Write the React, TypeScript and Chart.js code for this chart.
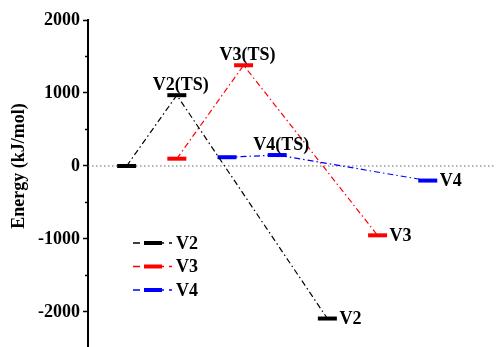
import React, { useEffect, useRef } from "react";
import { Chart, registerables } from "chart.js";

Chart.register(...registerables);

// ---- data ----
const seriesNames = ["V2", "V3", "V4"];
const v2X = [0, 1, 4];
const v2Y = [0, 970, -2090];
const v2Labels = ["", "V2(TS)", "V2"];
const v3X = [1, 2.33, 5];
const v3Y = [100, 1380, -950];
const v3Labels = ["", "V3(TS)", "V3"];
const v4X = [2, 3, 6];
const v4Y = [120, 150, -200];
const v4Labels = ["", "V4(TS)", "V4"];
const yTicks = [-2000, -1000, 0, 1000, 2000];
const yMin = -2480;
const yMax = 2000;
const xMin = -0.77;
const xMax = 7.36;
const axisTitle = "Energy (kJ/mol)";

const colors = ["#000000", "#ff0000", "#0000ff"];
const FONT = '"Liberation Serif", "Times New Roman", serif';
const DASH = [6, 3, 1.5, 3];

const toPts = (xs: number[], ys: number[]) => xs.map((x, i) => ({ x, y: ys[i] }));

const stageLabels = [v2Labels, v3Labels, v4Labels];

const decorPlugin = {
  id: "decor",
  afterDatasetsDraw(chart: any) {
    const ctx = chart.ctx;
    const yScale = chart.scales.y;
    const area = chart.chartArea;
    ctx.save();
    // minor ticks
    ctx.strokeStyle = "#000";
    ctx.lineWidth = 1.5;
    for (let v = Math.ceil(yMin / 500) * 500; v <= yMax; v += 500) {
      if (v % 1000 === 0) continue;
      const py = yScale.getPixelForValue(v);
      ctx.beginPath();
      ctx.moveTo(area.left - 3, py);
      ctx.lineTo(area.left, py);
      ctx.stroke();
    }
    // axis title
    ctx.fillStyle = "#000";
    ctx.font = `bold 18px ${FONT}`;
    ctx.textAlign = "center";
    ctx.textBaseline = "middle";
    ctx.translate(19, yScale.getPixelForValue(0));
    ctx.rotate(-Math.PI / 2);
    ctx.fillText(axisTitle, 0, 0);
    ctx.restore();

    // point labels
    ctx.save();
    ctx.font = `bold 18px ${FONT}`;
    ctx.fillStyle = "#000";
    stageLabels.forEach((labels, di) => {
      const meta = chart.getDatasetMeta(di);
      labels.forEach((t, i) => {
        if (!t) return;
        const el = meta.data[i];
        if (i === 1) {
          ctx.textAlign = "center";
          ctx.textBaseline = "alphabetic";
          ctx.fillText(t, el.x + 4, el.y - 5);
        } else {
          ctx.textAlign = "left";
          ctx.textBaseline = "middle";
          ctx.fillText(t, el.x + 12, el.y + 1);
        }
      });
    });
    ctx.restore();

    // legend
    ctx.save();
    const lx0 = 133, lx1 = 172, ly0 = 243, dy = 23.5;
    seriesNames.forEach((name, i) => {
      const y = ly0 + i * dy;
      const c = colors[i];
      ctx.strokeStyle = c;
      ctx.lineWidth = 1.3;
      ctx.setLineDash([7, 5]);
      ctx.beginPath();
      ctx.moveTo(lx0, y);
      ctx.lineTo(lx1, y);
      ctx.stroke();
      ctx.setLineDash([]);
      ctx.lineWidth = 4;
      ctx.beginPath();
      ctx.moveTo(144, y);
      ctx.lineTo(162, y);
      ctx.stroke();
      ctx.fillStyle = "#000";
      ctx.font = `bold 18px ${FONT}`;
      ctx.textAlign = "left";
      ctx.textBaseline = "middle";
      ctx.fillText(name, 176, y + 1);
    });
    ctx.restore();
  },
};

export default function App() {
  const ref = useRef<HTMLCanvasElement>(null);
  useEffect(() => {
    if (!ref.current) return;
    const mk = (i: number, xs: number[], ys: number[]) => ({
      label: seriesNames[i],
      data: toPts(xs, ys),
      borderColor: colors[i],
      borderWidth: 1.2,
      borderDash: DASH,
      pointStyle: "line",
      pointRadius: 9.5,
      pointHoverRadius: 9.5,
      pointBorderWidth: 4,
      pointBorderColor: colors[i],
      pointBackgroundColor: colors[i],
      fill: false,
      tension: 0,
      order: i,
    });
    const chart = new Chart(ref.current, {
      type: "line",
      data: {
        datasets: [
          mk(0, v2X, v2Y),
          mk(1, v3X, v3Y),
          mk(2, v4X, v4Y),
          {
            label: "zero",
            data: [
              { x: xMin, y: 0 },
              { x: xMax, y: 0 },
            ],
            borderColor: "#666",
            borderWidth: 1,
            borderDash: [1.5, 2.5],
            pointRadius: 0,
            order: 10,
          } as any,
        ],
      },
      options: {
        animation: false,
        responsive: false,
        layout: { autoPadding: false, padding: { top: 20, left: 0, right: 0, bottom: 0 } },
        plugins: { legend: { display: false }, tooltip: { enabled: false } },
        scales: {
          x: { type: "linear", min: xMin, max: xMax, display: false },
          y: {
            type: "linear",
            min: yMin,
            max: yMax,
            bounds: "data",
            afterFit: (s: any) => {
              s.width = 88;
              s.paddingTop = 0;
              s.paddingBottom = 0;
            },
            afterBuildTicks: (s: any) => {
              s.ticks = yTicks.map((v) => ({ value: v }));
            },
            ticks: {
              stepSize: 1000,
              includeBounds: false,
              color: "#000",
              padding: 3,
              font: { family: FONT, weight: "bold", size: 18 },
              callback: (v: any) => String(v),
            },
            grid: {
              drawOnChartArea: false,
              drawTicks: true,
              tickLength: 5,
              tickColor: "#000",
              tickWidth: 1.5,
            },
            border: { display: true, color: "#000", width: 2 },
          },
        },
      },
      plugins: [decorPlugin],
    } as any);
    return () => chart.destroy();
  }, []);
  return (
    <div style={{ position: "fixed", left: 0, top: 0, width: 496, height: 347, background: "#fff" }}>
      <canvas ref={ref} width={496} height={347} style={{ display: "block" }} />
    </div>
  );
}
